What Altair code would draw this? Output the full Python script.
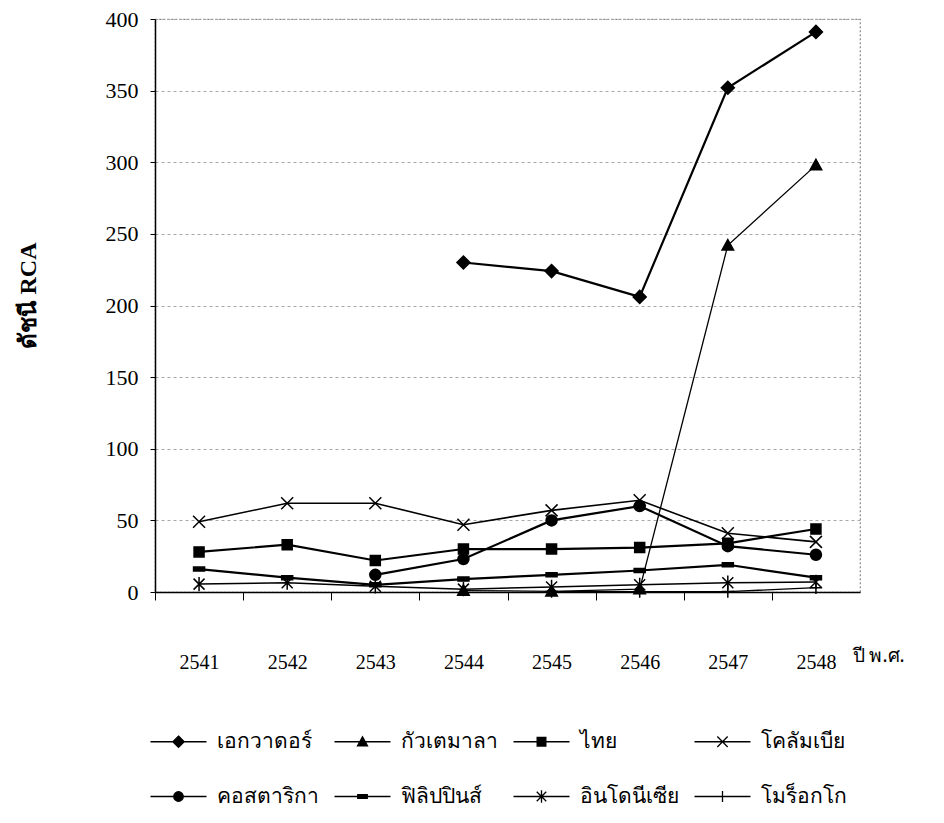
import altair as alt
import pandas as pd

years = ["2541", "2542", "2543", "2544", "2545", "2546", "2547", "2548"]
countries = ["เอกวาดอร์", "กัวเตมาลา", "ไทย", "โคลัมเบีย",
             "คอสตาริกา", "ฟิลิปปินส์", "อินโดนีเซีย", "โมร็อกโก"]

ecuador = [None, None, None, 230, 224, 206, 352, 391]
guatemala = [None, None, None, 1, 0.5, 2, 242, 298]
thailand = [28, 33, 22, 30, 30, 31, 34, 44]
colombia = [49, 62, 62, 47, 57, 64, 41, 35]
costa_rica = [None, None, 12, 23, 50, 60, 32, 26]
philippines = [16, 10, 5, 9, 12, 15, 19, 10]
indonesia = [5.5, 6.5, 4, 2, 3.5, 5, 6.5, 7]
morocco = [None, None, None, None, 0.3, 0.3, 0.3, 3]

series = [ecuador, guatemala, thailand, colombia, costa_rica, philippines, indonesia, morocco]
marker_kind = ["diamond", "triangle", "square", "x", "circle", "dash", "asterisk", "plus"]
line_width = [2.2, 1.3, 2.2, 1.6, 2.2, 2.2, 1.5, 1.3]


def f(v):
    return f"{v:.2f}".rstrip("0").rstrip(".")


def marker(kind, k=1.0, cx=0.0):
    def X(v):
        return f(cx + v * k)

    def Y(v):
        return f(v * k)
    if kind == "diamond":
        s = 1.3
        return f"M{X(0)},{Y(-s)}L{X(s)},{Y(0)}L{X(0)},{Y(s)}L{X(-s)},{Y(0)}Z"
    if kind == "triangle":
        s = 1.15
        return f"M{X(0)},{Y(-s)}L{X(s)},{Y(s*0.8)}L{X(-s)},{Y(s*0.8)}Z"
    if kind == "square":
        s = 1.0
        return f"M{X(-s)},{Y(-s)}L{X(s)},{Y(-s)}L{X(s)},{Y(s)}L{X(-s)},{Y(s)}Z"
    if kind == "x":
        s = 1.2
        return f"M{X(-s)},{Y(-s)}L{X(s)},{Y(s)}M{X(-s)},{Y(s)}L{X(s)},{Y(-s)}"
    if kind == "circle":
        s = 1.1
        r = f(s * k)
        return f"M{X(-s)},{Y(0)}A{r},{r} 0 1,0 {X(s)},{Y(0)}A{r},{r} 0 1,0 {X(-s)},{Y(0)}Z"
    if kind == "dash":
        return f"M{X(-1.1)},{Y(-0.4)}L{X(1.1)},{Y(-0.4)}L{X(1.1)},{Y(0.4)}L{X(-1.1)},{Y(0.4)}Z"
    if kind == "asterisk":
        s = 1.1
        return (f"M{X(-s)},{Y(-s)}L{X(s)},{Y(s)}M{X(-s)},{Y(s)}L{X(s)},{Y(-s)}"
                f"M{X(0)},{Y(-s*1.3)}L{X(0)},{Y(s*1.3)}")
    if kind == "plus":
        s = 1.25
        return f"M{X(-s)},{Y(0)}L{X(s)},{Y(0)}M{X(0)},{Y(-s)}L{X(0)},{Y(s)}"


rows = []
for c, vals, mk, lw in zip(countries, series, marker_kind, line_width):
    for y, v in zip(years, vals):
        if v is not None:
            rows.append({"year": y, "country": c, "value": v,
                         "marker": marker(mk), "sw": lw})
df = pd.DataFrame(rows)

# legend symbols: a short line with the marker in the middle
legend_paths = ["M-1,0L7,0" + marker(mk, k=0.62, cx=3.0) for mk in marker_kind]

W, H = 705, 573
half = W / 8 / 2

x_enc = alt.X("year:N", sort=years, title="ปี พ.ศ.",
              scale=alt.Scale(type="band", paddingInner=0, paddingOuter=0, domain=years),
              axis=alt.Axis(labelAngle=0, labelFont="Liberation Serif", labelFontSize=20,
                            labelColor="black", labelPadding=52, tickSize=8,
                            tickColor="black", tickOffset=-half, labelOffset=half,
                            domainColor="black", domainWidth=1.5, grid=False,
                            titleFont="Noto Sans", titleFontSize=19, titleFontWeight="normal",
                            titleColor="black", titleX=W - 8, titleY=63,
                            titleAlign="left", titleBaseline="middle", titleAnchor="start"))
y_enc = alt.Y("value:Q", title="ดัชนี RCA",
              scale=alt.Scale(domain=[0, 400], nice=False, zero=True),
              axis=alt.Axis(values=list(range(0, 401, 50)), labelFont="Liberation Serif",
                            labelFontSize=22, labelColor="black", labelPadding=12,
                            tickSize=5, tickColor="black", domainColor="black",
                            domainWidth=1.5, gridColor="#a8a8a8", gridDash=[3, 3],
                            gridWidth=1, titleFont="Liberation Serif", titleFontSize=24,
                            titleFontWeight="bold", titleColor="black", titleX=-127,
                            titleY=276, titleAngle=270, titleAlign="center",
                            titleBaseline="middle"))

base = alt.Chart(df)

lines = base.mark_line(color="black").encode(
    x=x_enc, y=y_enc, detail="country:N",
    strokeWidth=alt.StrokeWidth("sw:Q", scale=None),
)

points = base.mark_point(filled=True, color="black", stroke="black",
                         strokeWidth=1.5, size=100, opacity=1).encode(
    x=alt.X("year:N", sort=years), y="value:Q",
    shape=alt.Shape("marker:N", scale=None),
)

legend_layer = base.transform_filter("false").mark_point(
    filled=True, color="black", stroke="black", strokeWidth=1.3, opacity=1).encode(
    x=alt.X("year:N", sort=years), y="value:Q",
    shape=alt.Shape("country:N",
                    scale=alt.Scale(domain=countries, range=legend_paths),
                    legend=alt.Legend(title=None, orient="none", legendX=-8, legendY=712,
                                      direction="horizontal", columns=4,
                                      symbolSize=196, labelOffset=49,
                                      symbolStrokeWidth=1.3, symbolFillColor="black",
                                      symbolStrokeColor="black", symbolOpacity=1,
                                      labelFont="Noto Sans", labelFontSize=21,
                                      labelColor="black", columnPadding=12,
                                      rowPadding=33, labelLimit=300,
                                      gridAlign="each")),
)

chart = alt.layer(lines, points, legend_layer).properties(
    width=W, height=H,
    autosize=alt.AutoSizeParams(type="none"),
    padding={"left": 147, "top": 11, "right": 76, "bottom": 223},
).configure_view(stroke="#8a8a8a", strokeDash=[2, 2], strokeWidth=1.2)

chart.save("out.html", embed_options={"renderer": "svg", "actions": False})
